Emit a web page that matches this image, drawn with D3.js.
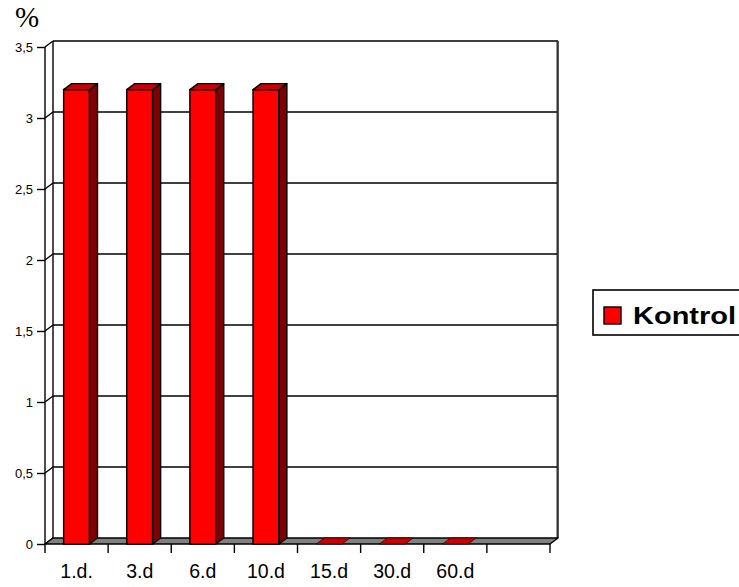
<!DOCTYPE html>
<html>
<head>
<meta charset="utf-8">
<script src="https://cdn.jsdelivr.net/npm/d3@7"></script>
<style>
  html, body { margin: 0; padding: 0; background: #fff; }
  svg { display: block; }
</style>
</head>
<body>
<svg id="chart" width="739" height="587"></svg>
<script>
// Days after treatment and measured percentage for the control group
const categories = ["1.d.", "3.d", "6.d", "10.d", "15.d", "30.d", "60.d", ""];
const kontrolValues = [3.2, 3.2, 3.2, 3.2, 0, 0, 0, null];
const yTickValues = [0, 0.5, 1, 1.5, 2, 2.5, 3, 3.5];
const yTickLabels = ["0", "0,5", "1", "1,5", "2", "2,5", "3", "3,5"];
const seriesName = "Kontrol";

const svg = d3.select("#chart");

// Front plane of the 3D plot and the depth offset to the back wall
const plotLeft = 45, plotRight = 550, plotBottom = 544, plotTop = 47;
const dx = 8, dy = -6;

const x = d3.scaleBand().domain(categories).range([plotLeft, plotRight]).padding(0);
const y = d3.scaleLinear().domain([0, 3.5]).range([plotBottom, plotTop]);
const barW = x.bandwidth() * 0.41;

const colFront = "#ff0000", colTop = "#c80000", colSide = "#800000";

const g = svg.append("g");

// Back wall
g.append("rect")
  .attr("x", plotLeft + dx).attr("y", plotTop + dy)
  .attr("width", plotRight - plotLeft).attr("height", plotBottom - plotTop)
  .attr("fill", "#fff").attr("stroke", "none");

// Gridlines on the back wall plus the diagonal joining each tick
yTickValues.forEach(v => {
  const yy = y(v);
  if (v > 0) {
    g.append("line")
      .attr("x1", plotLeft + dx).attr("x2", plotRight + dx)
      .attr("y1", yy + dy).attr("y2", yy + dy)
      .attr("stroke", "#000").attr("stroke-width", 1.4);
  }
  g.append("line")
    .attr("x1", plotLeft).attr("y1", yy)
    .attr("x2", plotLeft + dx).attr("y2", yy + dy)
    .attr("stroke", "#000").attr("stroke-width", 1.4);
});

// Left edge of the back wall and its right edge
g.append("line")
  .attr("x1", plotLeft + dx).attr("x2", plotLeft + dx)
  .attr("y1", plotTop + dy).attr("y2", plotBottom + dy)
  .attr("stroke", "#000").attr("stroke-width", 1.4);
g.append("line")
  .attr("x1", plotRight + dx).attr("x2", plotRight + dx)
  .attr("y1", plotTop + dy).attr("y2", plotBottom + dy)
  .attr("stroke", "#555").attr("stroke-width", 2);
g.append("line")
  .attr("x1", plotRight + dx - 1).attr("x2", plotRight + dx - 1)
  .attr("y1", plotTop + dy).attr("y2", plotBottom + dy)
  .attr("stroke", "#000").attr("stroke-width", 0.8);

// Floor
g.append("path")
  .attr("d", `M${plotLeft},${plotBottom}L${plotLeft + dx},${plotBottom + dy}L${plotRight + dx},${plotBottom + dy}L${plotRight},${plotBottom}Z`)
  .attr("fill", "#808080").attr("stroke", "#000").attr("stroke-width", 1.4)
  .attr("stroke-linejoin", "round");

// Bars drawn as front face, side face and top face
const bars = categories.map((c, i) => ({ c, v: kontrolValues[i] })).filter(d => d.v !== null);
const barG = g.selectAll("g.bar").data(bars).join("g").attr("class", "bar");

barG.each(function(d) {
  const gb = d3.select(this);
  const x0 = x(d.c) + (x.bandwidth() - barW) / 2;
  const x1 = x0 + barW;
  const yv = y(d.v), y0 = y(0);
  if (d.v > 0) {
    gb.append("rect")
      .attr("x", x0).attr("y", yv).attr("width", barW).attr("height", y0 - yv)
      .attr("fill", colFront).attr("stroke", "#000").attr("stroke-width", 1.4);
    gb.append("path")
      .attr("d", `M${x1},${yv}L${x1 + dx},${yv + dy}L${x1 + dx},${y0 + dy}L${x1},${y0}Z`)
      .attr("fill", colSide).attr("stroke", "#000").attr("stroke-width", 1.4)
      .attr("stroke-linejoin", "round");
  }
  gb.append("path")
    .attr("d", `M${x0},${yv}L${x0 + dx},${yv + dy}L${x1 + dx},${yv + dy}L${x1},${yv}Z`)
    .attr("fill", colTop).attr("stroke", "#000").attr("stroke-width", d.v > 0 ? 1.4 : 0.6)
    .attr("stroke-linejoin", "round");
});

// Front vertical axis
g.append("line")
  .attr("x1", plotLeft).attr("x2", plotLeft).attr("y1", plotTop).attr("y2", plotBottom)
  .attr("stroke", "#000").attr("stroke-width", 1.4);

// Y axis ticks and labels
const yAxis = d3.axisLeft(y)
  .tickValues(yTickValues)
  .tickSize(8)
  .tickPadding(4)
  .tickFormat((d, i) => yTickLabels[i]);
const yAxisG = g.append("g").attr("transform", `translate(${plotLeft},0)`).call(yAxis);
yAxisG.select(".domain").remove();
yAxisG.selectAll(".tick line").attr("stroke", "#000").attr("stroke-width", 1.4);
yAxisG.selectAll(".tick text")
  .attr("font-family", "Arial, 'Liberation Sans', sans-serif")
  .attr("font-size", 13).attr("fill", "#000");

// X axis: ticks at category boundaries, labels centred in each slot
const xBoundaries = categories.map(c => x(c)).concat([plotRight]);
g.selectAll("line.xtick").data(xBoundaries).join("line")
  .attr("class", "xtick")
  .attr("x1", d => d).attr("x2", d => d)
  .attr("y1", plotBottom).attr("y2", plotBottom + 9)
  .attr("stroke", "#000").attr("stroke-width", 1.4);

g.selectAll("text.xlabel").data(categories).join("text")
  .attr("class", "xlabel")
  .attr("x", d => x(d) + x.bandwidth() / 2)
  .attr("y", 578)
  .attr("text-anchor", "middle")
  .attr("font-family", "Arial, 'Liberation Sans', sans-serif")
  .attr("font-size", 19.5)
  .attr("fill", "#000")
  .text(d => d);

// Unit label
svg.append("text")
  .attr("x", 15).attr("y", 27)
  .attr("font-family", "'Liberation Serif', 'Times New Roman', serif")
  .attr("font-size", 29)
  .attr("fill", "#000")
  .text("%");

// Legend
const lg = svg.append("g");
lg.append("rect")
  .attr("x", 593).attr("y", 290).attr("width", 160).attr("height", 45)
  .attr("fill", "#fff").attr("stroke", "#000").attr("stroke-width", 1.6);
lg.append("rect")
  .attr("x", 604).attr("y", 307).attr("width", 17).attr("height", 17)
  .attr("fill", colFront).attr("stroke", "#000").attr("stroke-width", 1.4);
lg.append("text")
  .attr("x", 633).attr("y", 324)
  .attr("font-family", "Arial, 'Liberation Sans', sans-serif")
  .attr("font-weight", "bold")
  .attr("font-size", 24)
  .attr("fill", "#000")
  .attr("textLength", 103)
  .attr("lengthAdjust", "spacingAndGlyphs")
  .text(seriesName);
</script>
</body>
</html>
